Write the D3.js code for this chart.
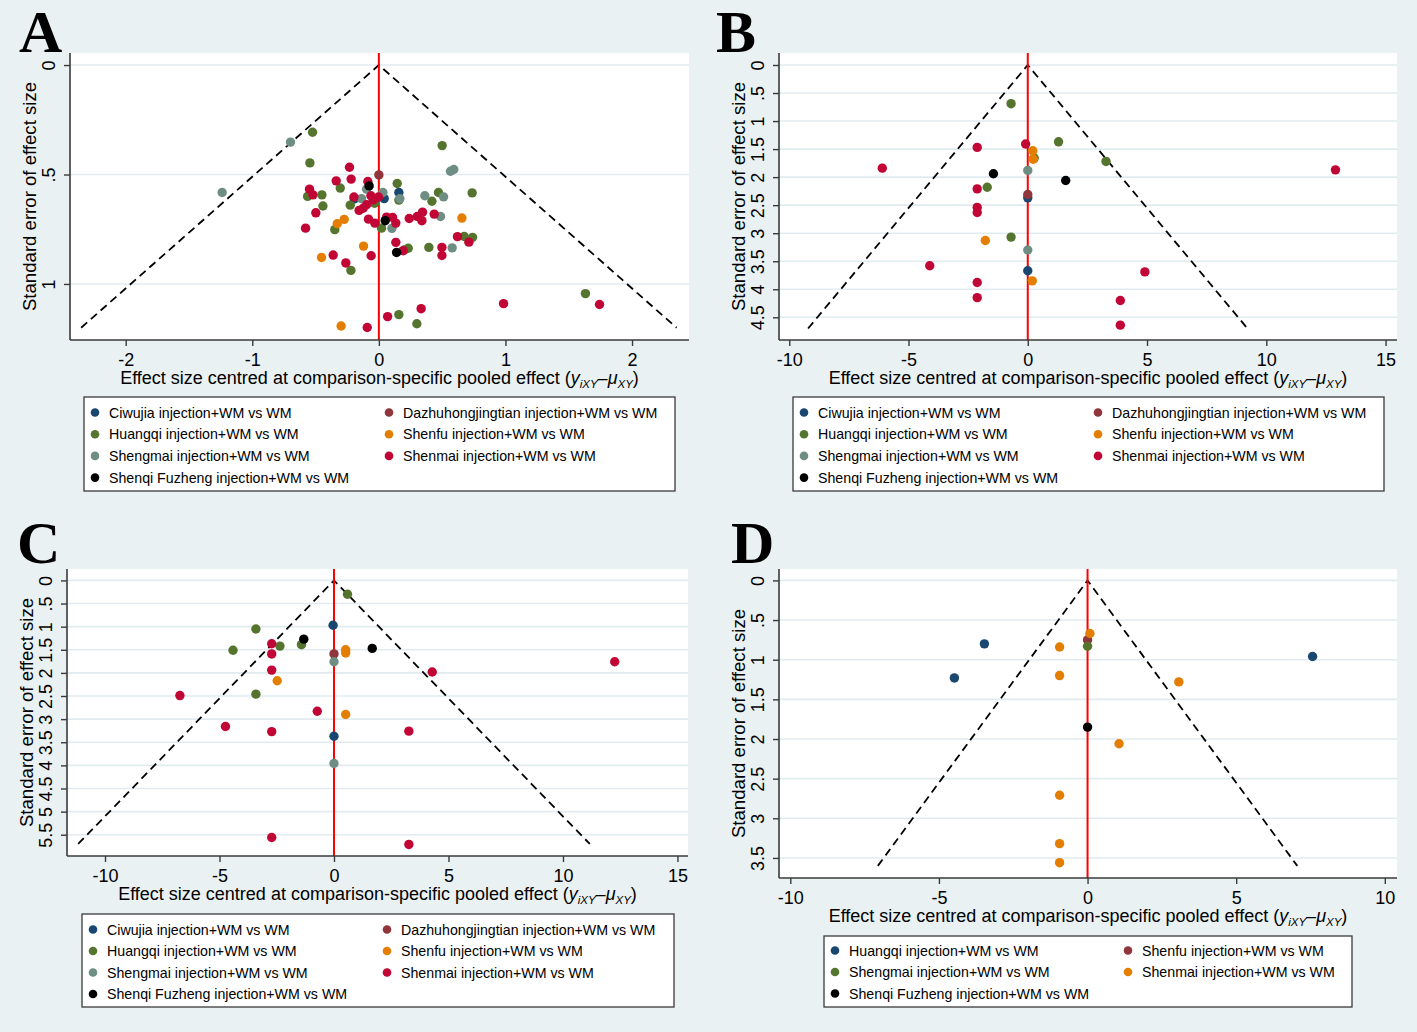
<!DOCTYPE html>
<html>
<head>
<meta charset="utf-8">
<script src="https://cdn.jsdelivr.net/npm/d3@7"></script>
<style>
  body { margin: 0; background: #eaf1f3; }
  svg { display: block; }
</style>
</head>
<body>
<div id="chart"></div>
<script>
'use strict';

// series names and marker colours (Stata s2color order)
const seriesABC = ['Ciwujia', 'Dazhuhongjingtian', 'Huangqi', 'Shenfu', 'Shengmai', 'Shenmai', 'Shenqi Fuzheng'];
const coloursABC = ['#1a476f', '#90353b', '#55752f', '#e37e00', '#6e8e84', '#c10534', '#000000'];
const seriesD = ['Huangqi', 'Shenfu', 'Shengmai', 'Shenmai', 'Shenqi Fuzheng'];
const coloursD = ['#1a476f', '#90353b', '#55752f', '#e37e00', '#000000'];

// tick values
const xTicksA = [-2, -1, 0, 1, 2];
const yTicksA = [0, 0.5, 1];
const xTicksB = [-10, -5, 0, 5, 10, 15];
const yTicksB = [0, 0.5, 1, 1.5, 2, 2.5, 3, 3.5, 4, 4.5];
const xTicksC = [-10, -5, 0, 5, 10, 15];
const yTicksC = [0, 0.5, 1, 1.5, 2, 2.5, 3, 3.5, 4, 4.5, 5, 5.5];
const xTicksD = [-10, -5, 0, 5, 10];
const yTicksD = [0, 0.5, 1, 1.5, 2, 2.5, 3, 3.5];

// largest standard error used for the pseudo 95% funnel
const funnelA = 1.2;
const funnelB = 4.7;
const funnelC = 5.7;
const funnelD = 3.6;

// [series, centred effect, standard error]
const pointsA = [
  ['Ciwujia', 0.158, 0.582], ['Ciwujia', 0.042, 0.610], ['Ciwujia', -0.195, 0.612],
  ['Dazhuhongjingtian', 0.0, 0.502],
  ['Huangqi', -0.524, 0.307], ['Huangqi', 0.50, 0.368], ['Huangqi', -0.545, 0.447], ['Huangqi', 0.145, 0.541],
  ['Huangqi', -0.305, 0.562], ['Huangqi', -0.45, 0.593], ['Huangqi', -0.563, 0.60], ['Huangqi', -0.442, 0.644],
  ['Huangqi', -0.226, 0.640], ['Huangqi', -0.034, 0.631], ['Huangqi', 0.158, 0.617], ['Huangqi', 0.471, 0.582],
  ['Huangqi', 0.419, 0.622], ['Huangqi', 0.737, 0.584], ['Huangqi', -0.348, 0.752], ['Huangqi', 0.021, 0.745],
  ['Huangqi', 0.232, 0.837], ['Huangqi', 0.395, 0.833], ['Huangqi', 0.674, 0.783], ['Huangqi', 0.74, 0.787],
  ['Huangqi', -0.221, 0.938], ['Huangqi', 1.632, 1.044], ['Huangqi', 0.158, 1.14], ['Huangqi', 0.30, 1.182],
  ['Huangqi', 0.20, 0.845],
  ['Shenfu', -0.329, 0.725], ['Shenfu', -0.274, 0.705], ['Shenfu', -0.121, 0.827], ['Shenfu', -0.453, 0.879],
  ['Shenfu', -0.298, 1.192], ['Shenfu', 0.656, 0.699],
  ['Shengmai', -1.238, 0.582], ['Shengmai', -0.698, 0.352], ['Shengmai', 0.566, 0.485], ['Shengmai', 0.592, 0.477],
  ['Shengmai', -0.097, 0.567], ['Shengmai', 0.032, 0.582], ['Shengmai', -0.137, 0.61], ['Shengmai', 0.166, 0.611],
  ['Shengmai', 0.363, 0.597], ['Shengmai', 0.511, 0.602], ['Shengmai', 0.487, 0.692], ['Shengmai', 0.103, 0.746],
  ['Shengmai', 0.579, 0.835],
  ['Shenmai', -0.232, 0.467], ['Shenmai', -0.337, 0.529], ['Shenmai', -0.219, 0.521], ['Shenmai', -0.087, 0.532],
  ['Shenmai', -0.548, 0.567], ['Shenmai', -0.521, 0.593], ['Shenmai', -0.498, 0.675], ['Shenmai', -0.579, 0.745],
  ['Shenmai', -0.197, 0.603], ['Shenmai', -0.063, 0.597], ['Shenmai', -0.045, 0.616], ['Shenmai', -0.003, 0.603],
  ['Shenmai', -0.097, 0.638], ['Shenmai', -0.124, 0.654], ['Shenmai', -0.156, 0.664], ['Shenmai', -0.082, 0.704],
  ['Shenmai', -0.032, 0.722], ['Shenmai', 0.061, 0.695], ['Shenmai', 0.108, 0.696], ['Shenmai', 0.134, 0.722],
  ['Shenmai', 0.24, 0.701], ['Shenmai', 0.303, 0.692], ['Shenmai', 0.345, 0.672], ['Shenmai', 0.34, 0.711],
  ['Shenmai', 0.437, 0.681], ['Shenmai', 0.621, 0.784], ['Shenmai', 0.711, 0.809], ['Shenmai', 0.498, 0.833],
  ['Shenmai', 0.498, 0.87], ['Shenmai', 0.134, 0.81], ['Shenmai', 0.192, 0.848], ['Shenmai', -0.361, 0.868],
  ['Shenmai', -0.261, 0.904], ['Shenmai', -0.061, 0.871], ['Shenmai', 0.069, 1.149], ['Shenmai', 0.334, 1.113],
  ['Shenmai', -0.092, 1.199], ['Shenmai', 0.985, 1.09], ['Shenmai', 1.743, 1.094],
  ['Shenqi Fuzheng', -0.077, 0.552], ['Shenqi Fuzheng', 0.05, 0.711], ['Shenqi Fuzheng', 0.14, 0.856]
];

const pointsB = [
  ['Ciwujia', 0, 2.37], ['Ciwujia', 0, 3.67],
  ['Dazhuhongjingtian', 0, 2.31],
  ['Huangqi', -0.70, 0.69], ['Huangqi', 1.29, 1.37], ['Huangqi', 0.27, 1.66], ['Huangqi', 3.28, 1.72],
  ['Huangqi', -1.70, 2.18], ['Huangqi', -0.70, 3.07],
  ['Shenfu', 0.21, 1.53], ['Shenfu', 0.23, 1.68], ['Shenfu', -1.78, 3.13], ['Shenfu', 0.19, 3.85],
  ['Shengmai', 0, 1.88], ['Shengmai', 0, 3.30],
  ['Shenmai', -6.10, 1.84], ['Shenmai', 12.9, 1.87], ['Shenmai', -2.12, 1.47], ['Shenmai', -0.09, 1.41],
  ['Shenmai', -2.12, 2.21], ['Shenmai', -2.12, 2.54], ['Shenmai', -2.12, 2.63], ['Shenmai', -4.11, 3.58],
  ['Shenmai', 4.91, 3.69], ['Shenmai', -2.12, 3.88], ['Shenmai', -2.12, 4.15], ['Shenmai', 3.88, 4.20],
  ['Shenmai', 3.88, 4.64],
  ['Shenqi Fuzheng', -1.44, 1.94], ['Shenqi Fuzheng', 1.59, 2.06]
];

const pointsC = [
  ['Ciwujia', -0.04, 0.97], ['Ciwujia', 0, 3.37],
  ['Dazhuhongjingtian', 0, 1.59],
  ['Huangqi', 0.59, 0.30], ['Huangqi', -3.41, 1.05], ['Huangqi', -4.41, 1.51], ['Huangqi', -2.36, 1.42],
  ['Huangqi', -1.42, 1.39], ['Huangqi', -3.41, 2.46],
  ['Shenfu', 0.51, 1.50], ['Shenfu', 0.51, 1.57], ['Shenfu', -2.48, 2.17], ['Shenfu', 0.51, 2.90],
  ['Shengmai', 0, 1.76], ['Shengmai', 0, 3.96],
  ['Shenmai', -2.72, 1.37], ['Shenmai', -2.72, 1.59], ['Shenmai', -2.72, 1.94], ['Shenmai', 12.26, 1.76],
  ['Shenmai', 4.29, 1.98], ['Shenmai', -6.73, 2.49], ['Shenmai', -0.73, 2.83], ['Shenmai', -4.74, 3.16],
  ['Shenmai', -2.72, 3.27], ['Shenmai', 3.27, 3.26], ['Shenmai', -2.72, 5.56], ['Shenmai', 3.27, 5.71],
  ['Shenqi Fuzheng', -1.32, 1.27], ['Shenqi Fuzheng', 1.67, 1.47]
];

const pointsD = [
  ['Huangqi', -3.47, 0.80], ['Huangqi', -4.48, 1.23], ['Huangqi', 7.57, 0.96],
  ['Shenfu', 0, 0.75],
  ['Shengmai', 0, 0.83],
  ['Shenmai', 0.08, 0.67], ['Shenmai', -0.94, 0.84], ['Shenmai', -0.94, 1.20], ['Shenmai', 3.07, 1.28],
  ['Shenmai', 1.06, 2.06], ['Shenmai', -0.94, 2.71], ['Shenmai', -0.94, 3.32], ['Shenmai', -0.94, 3.56],
  ['Shenqi Fuzheng', 0, 1.85]
];

const width = 1417;
const height = 1032;
const bg = '#eaf1f3';
const axisColour = '#3a3a3a';
const sans = '"Liberation Sans", Arial, sans-serif';

const panels = [
  {
    letter: 'A', letterX: 19, letterY: 52,
    box: { left: 70, right: 689, top: 53, bottom: 340 },
    xDomain: [-2.44, 2.45], yDomain: [-0.055, 1.256],
    xTicks: xTicksA, yTicks: yTicksA, funnel: funnelA, points: pointsA,
    series: seriesABC, colours: coloursABC,
    legend: { x: 84, y: 397, w: 591, h: 94, col2: 294, row0: 15.5, step: 21.7 }
  },
  {
    letter: 'B', letterX: 716, letterY: 52,
    box: { left: 779, right: 1397, top: 53, bottom: 340 },
    xDomain: [-10.43, 15.48], yDomain: [-0.214, 4.905],
    xTicks: xTicksB, yTicks: yTicksB, funnel: funnelB, points: pointsB,
    series: seriesABC, colours: coloursABC,
    legend: { x: 793, y: 397, w: 591, h: 94, col2: 294, row0: 15.5, step: 21.7 }
  },
  {
    letter: 'C', letterX: 17, letterY: 563,
    box: { left: 67, right: 688, top: 569, bottom: 856 },
    xDomain: [-11.66, 15.46], yDomain: [-0.247, 5.96],
    xTicks: xTicksC, yTicks: yTicksC, funnel: funnelC, points: pointsC,
    series: seriesABC, colours: coloursABC,
    legend: { x: 82, y: 914, w: 592, h: 93, col2: 294, row0: 15.5, step: 21.5 }
  },
  {
    letter: 'D', letterX: 731, letterY: 563,
    box: { left: 779, right: 1397, top: 569, bottom: 878 },
    xDomain: [-10.38, 10.41], yDomain: [-0.144, 3.753],
    xTicks: xTicksD, yTicks: yTicksD, funnel: funnelD, points: pointsD,
    series: seriesD, colours: coloursD,
    legend: { x: 824, y: 936, w: 528, h: 71, col2: 293, row0: 14.5, step: 21.5 }
  }
];

const fmtY = (d) => (d === 0 ? '0' : String(d).replace(/^0\./, '.'));
const fmtX = (d) => String(d);

const svg = d3.select('#chart')
  .append('svg')
  .attr('width', width)
  .attr('height', height)
  .attr('viewBox', [0, 0, width, height])
  .style('background', bg);

const drawPanel = (p) => {
  const { box } = p;
  const x = d3.scaleLinear(p.xDomain, [box.left, box.right]);
  const y = d3.scaleLinear(p.yDomain, [box.top, box.bottom]);
  const colour = d3.scaleOrdinal(p.series, p.colours);
  const g = svg.append('g');

  // letter
  g.append('text')
    .attr('x', p.letterX)
    .attr('y', p.letterY)
    .attr('font-family', '"Liberation Serif", "Times New Roman", serif')
    .attr('font-weight', 'bold')
    .attr('font-size', 60)
    .attr('fill', '#000')
    .text(p.letter);

  // plot region
  g.append('rect')
    .attr('x', box.left)
    .attr('y', box.top)
    .attr('width', box.right - box.left)
    .attr('height', box.bottom - box.top)
    .attr('fill', '#fff');

  // grid
  g.append('g')
    .selectAll('line')
    .data(p.yTicks)
    .join('line')
    .attr('x1', box.left)
    .attr('x2', box.right)
    .attr('y1', (d) => y(d))
    .attr('y2', (d) => y(d))
    .attr('stroke', '#e1ebef')
    .attr('stroke-width', 1.6);

  // funnel
  const f = p.funnel;
  const funnel = [[-1.96 * f, f], [0, 0], [1.96 * f, f]];
  g.append('path')
    .attr('d', d3.line().x((d) => x(d[0])).y((d) => y(d[1]))(funnel))
    .attr('fill', 'none')
    .attr('stroke', '#000')
    .attr('stroke-width', 1.8)
    .attr('stroke-dasharray', '8,5');

  // zero line
  g.append('line')
    .attr('x1', x(0))
    .attr('x2', x(0))
    .attr('y1', box.top)
    .attr('y2', box.bottom)
    .attr('stroke', '#ff0000')
    .attr('stroke-width', 2);

  // points, drawn in series order
  const sorted = p.points.slice().sort((a, b) => p.series.indexOf(a[0]) - p.series.indexOf(b[0]));
  g.append('g')
    .selectAll('circle')
    .data(sorted)
    .join('circle')
    .attr('cx', (d) => x(d[1]))
    .attr('cy', (d) => y(d[2]))
    .attr('r', 4.7)
    .attr('fill', (d) => colour(d[0]));

  // axes
  const yAxis = d3.axisLeft(y).tickValues(p.yTicks).tickFormat(fmtY).tickSize(6).tickSizeOuter(0);
  const yg = g.append('g')
    .attr('transform', `translate(${box.left},0)`)
    .call(yAxis);
  yg.select('.domain').attr('d', `M0,${box.top}V${box.bottom}`);
  yg.selectAll('text')
    .attr('x', null)
    .attr('dy', '0.36em')
    .attr('text-anchor', 'middle')
    .attr('transform', 'translate(-21,0) rotate(-90)');

  const xAxis = d3.axisBottom(x).tickValues(p.xTicks).tickFormat(fmtX).tickSize(6).tickSizeOuter(0).tickPadding(7);
  const xg = g.append('g')
    .attr('transform', `translate(0,${box.bottom})`)
    .call(xAxis);
  xg.select('.domain').attr('d', `M${box.left},0H${box.right}`);

  [yg, xg].forEach((a) => {
    a.attr('font-family', sans).attr('font-size', 18);
    a.selectAll('text').attr('fill', '#000');
    a.selectAll('line').attr('stroke', axisColour).attr('stroke-width', 1.4);
    a.select('.domain').attr('stroke', axisColour).attr('stroke-width', 1.6);
  });

  // axis titles
  g.append('text')
    .attr('transform', `translate(${box.left - 41},${(box.top + box.bottom) / 2}) rotate(-90)`)
    .attr('text-anchor', 'middle')
    .attr('dy', '0.36em')
    .attr('font-family', sans)
    .attr('font-size', 18.6)
    .attr('fill', '#000')
    .text('Standard error of effect size');

  const xt = g.append('text')
    .attr('x', (box.left + box.right) / 2)
    .attr('y', box.bottom + 38)
    .attr('dy', '0.36em')
    .attr('text-anchor', 'middle')
    .attr('font-family', sans)
    .attr('font-size', 18)
    .attr('fill', '#000');
  xt.append('tspan').text('Effect size centred at comparison-specific pooled effect (');
  xt.append('tspan').attr('font-style', 'italic').text('y');
  xt.append('tspan').attr('font-style', 'italic').attr('font-size', 11.5).attr('dy', 4).text('iXY');
  xt.append('tspan').attr('dy', -4).text('\u2013');
  xt.append('tspan').attr('font-style', 'italic').text('\u03bc');
  xt.append('tspan').attr('font-style', 'italic').attr('font-size', 11.5).attr('dy', 4).text('XY');
  xt.append('tspan').attr('dy', -4).text(')');

  // legend
  const L = p.legend;
  const lg = g.append('g');
  lg.append('rect')
    .attr('x', L.x)
    .attr('y', L.y)
    .attr('width', L.w)
    .attr('height', L.h)
    .attr('fill', '#fff')
    .attr('stroke', axisColour)
    .attr('stroke-width', 1.3);

  const items = lg.selectAll('g.item')
    .data(p.series)
    .join('g')
    .attr('class', 'item')
    .attr('transform', (d, i) => `translate(${L.x + 11 + (i % 2) * L.col2},${L.y + L.row0 + Math.floor(i / 2) * L.step})`);
  items.append('circle')
    .attr('r', 4.3)
    .attr('fill', (d) => colour(d));
  items.append('text')
    .attr('x', 14)
    .attr('dy', '0.36em')
    .attr('font-family', sans)
    .attr('font-size', 14.2)
    .attr('fill', '#000')
    .text((d) => `${d} injection+WM vs WM`);
};

panels.forEach(drawPanel);
</script>
</body>
</html>
